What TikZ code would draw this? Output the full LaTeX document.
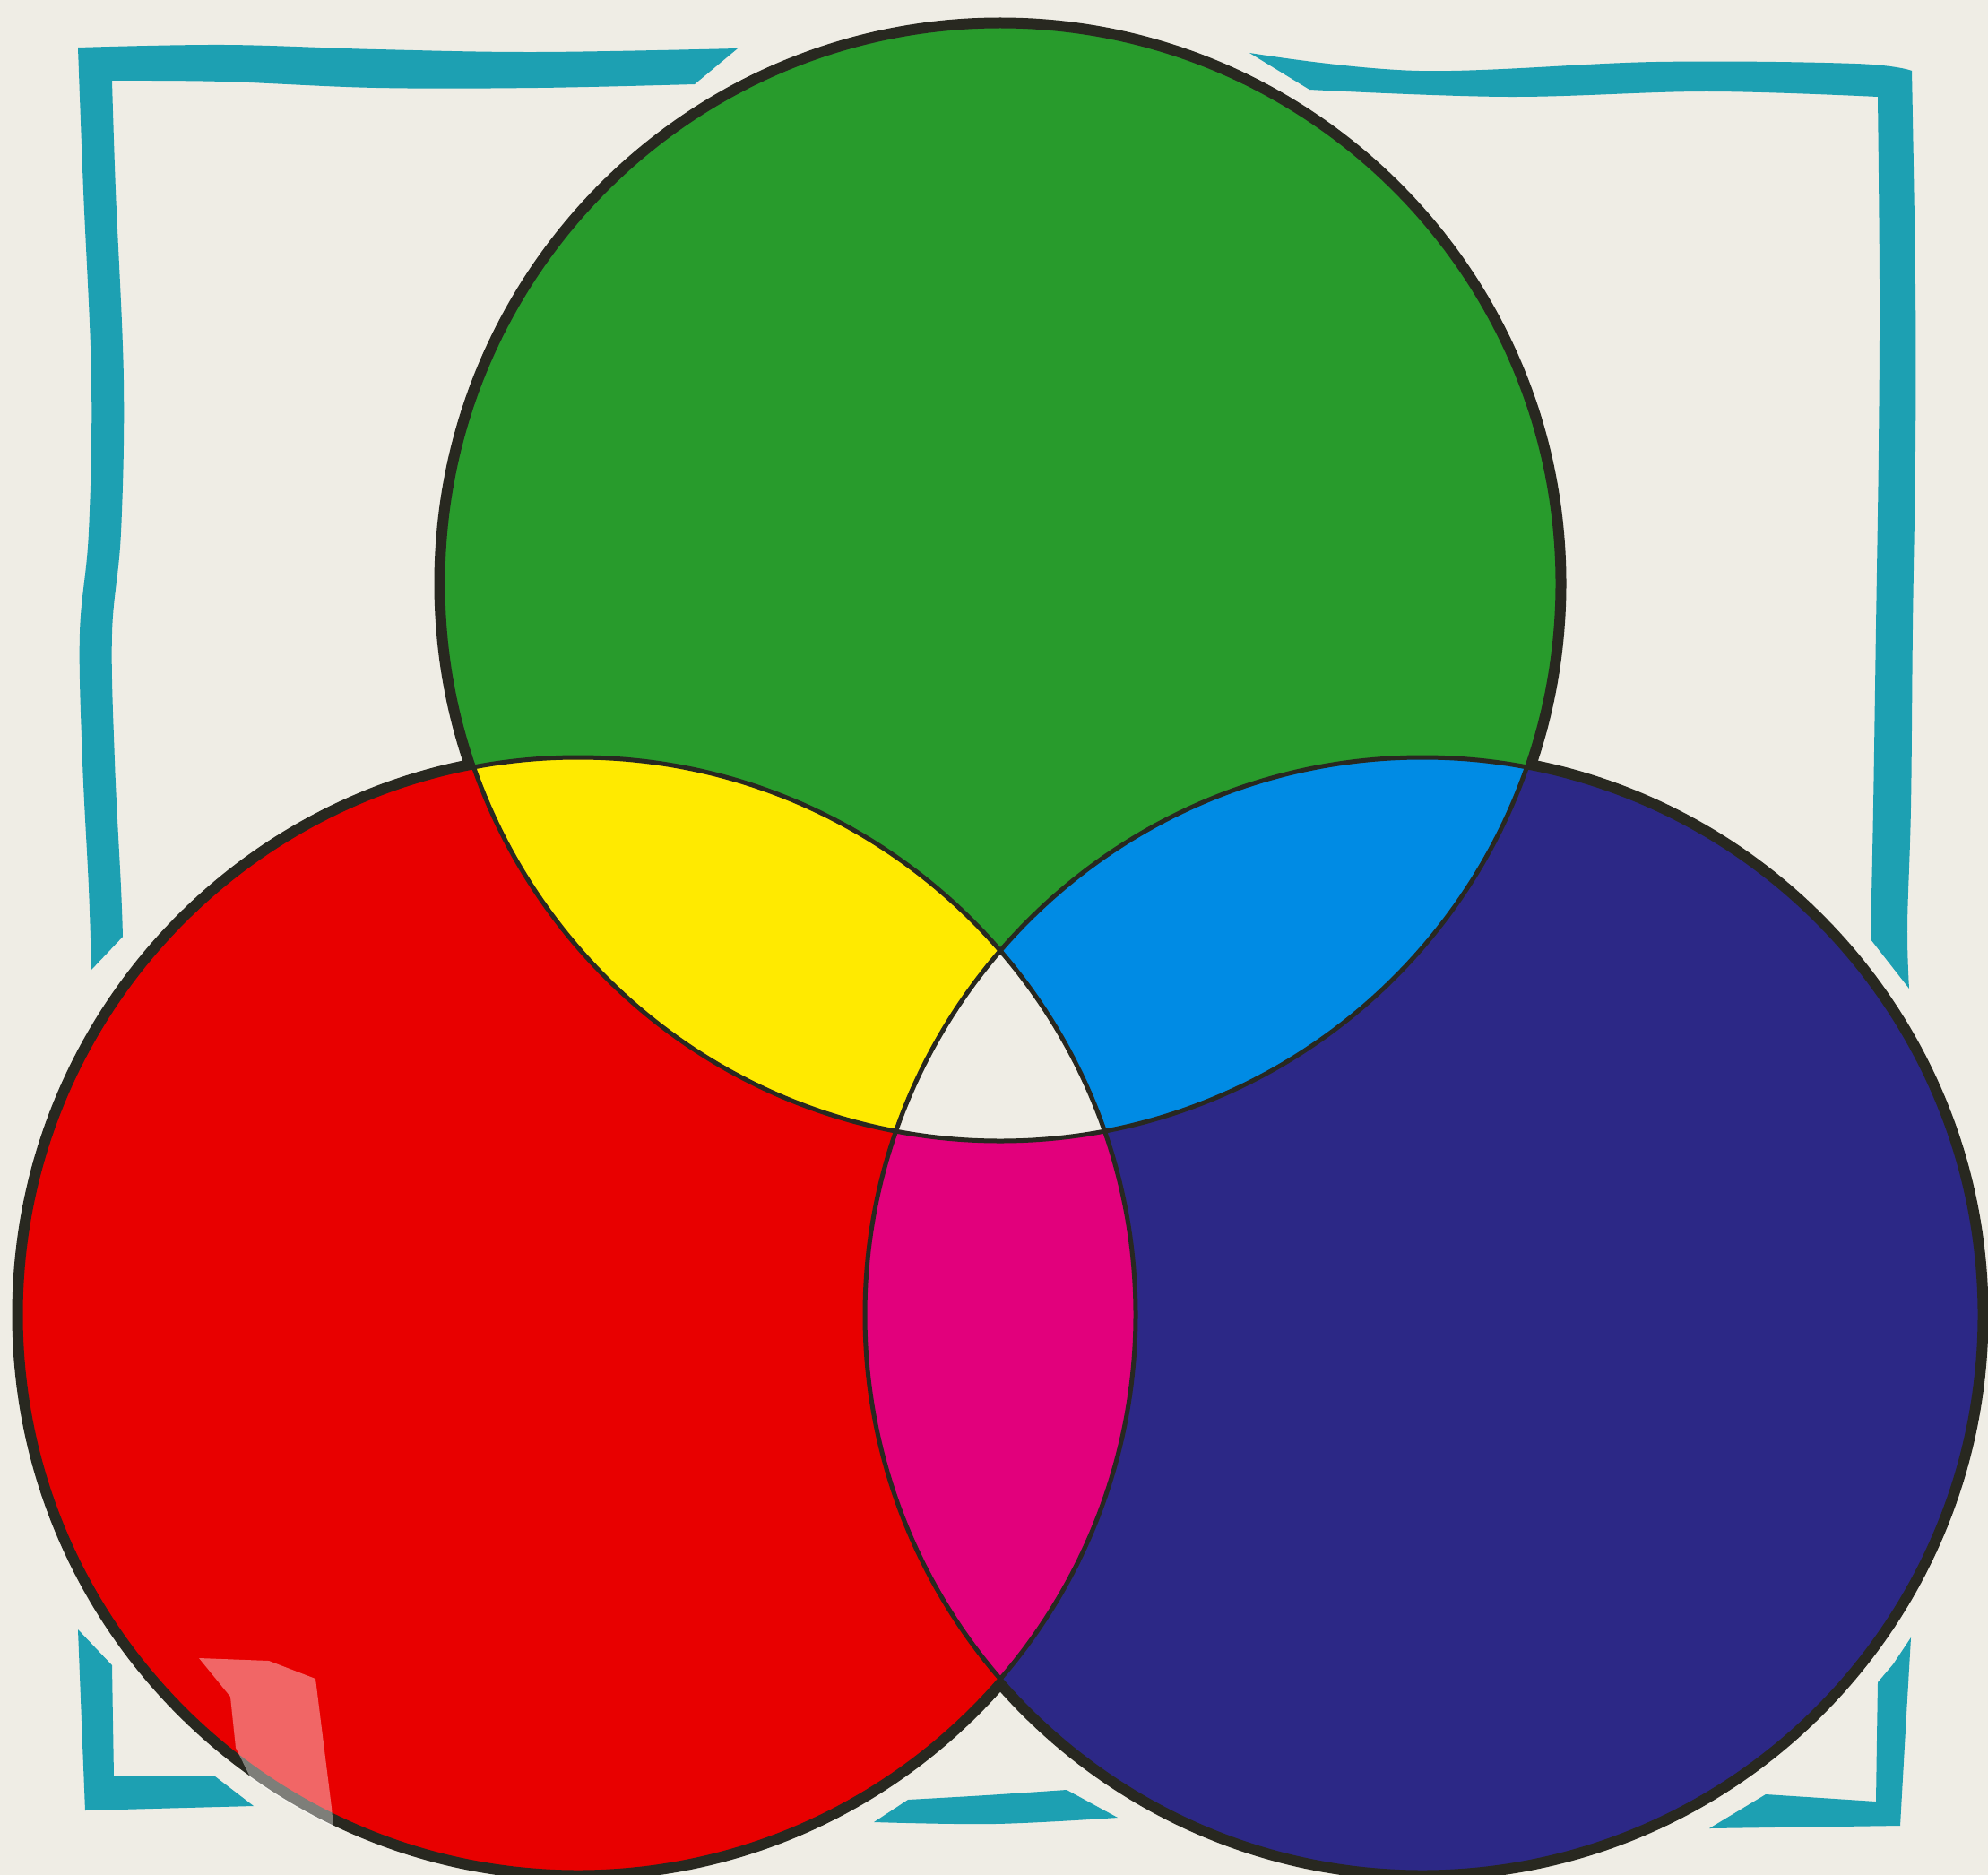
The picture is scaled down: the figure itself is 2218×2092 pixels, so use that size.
\documentclass[tikz,border=0pt]{standalone}
\usepackage{tikz}
\definecolor{paper}{RGB}{239,237,229}
\definecolor{cgreen}{RGB}{40,155,44}
\definecolor{cred}{RGB}{232,0,0}
\definecolor{cblue}{RGB}{44,40,134}
\definecolor{cyellow}{RGB}{255,234,0}
\definecolor{ccyan}{RGB}{0,139,228}
\definecolor{cmagenta}{RGB}{226,0,124}
\definecolor{teal}{RGB}{29,160,178}
\definecolor{ink}{RGB}{40,40,32}
\tikzset{
  framepiece/.style={fill=teal},
  outerline/.style={draw=ink, line width=19pt},
  innerline/.style={draw=ink, line width=5pt},
  wave/.style={smooth, tension=0.6},
}
\begin{document}
\begin{tikzpicture}[x=1pt,y=-1pt]
\useasboundingbox (0,0) rectangle (2218,2092);
\fill[paper] (0,0) rectangle (2218,2092);

\coordinate (G) at (1116,651);
\coordinate (R) at (645,1467);
\coordinate (B) at (1587,1467);
\def\rad{622pt}

% wavy teal frame: top-left piece
\fill[framepiece] (102,1082)
  -- plot[wave] coordinates {(102,1082) (99,990) (92,849) (89,707) (99,594) (102,424) (93,212) (87,53)}
  -- plot[wave] coordinates {(87,53) (250,50) (420,55) (600,58) (823,54)}
  -- (775,94)
  -- plot[wave] coordinates {(775,94) (600,98) (420,98) (250,91) (125,90)}
  -- plot[wave] coordinates {(125,90) (129,212) (138,424) (135,594) (125,707) (128,849) (135,990) (137,1045)}
  -- cycle;
% top-right piece
\fill[framepiece] (1394,59)
  -- plot[wave] coordinates {(1394,59) (1583,79) (1848,69) (2070,71) (2133,79)}
  -- plot[wave] coordinates {(2133,79) (2137,320) (2137,500) (2134,700) (2132,900) (2128,1033) (2130,1103)}
  -- (2087,1048)
  -- plot[wave] coordinates {(2087,1048) (2090,900) (2093,700) (2096,500) (2097,320) (2095,108)}
  -- plot[wave] coordinates {(2095,108) (1904,102) (1682,108) (1461,100)}
  -- cycle;
% bottom-left piece
\fill[framepiece] (87,1818) -- (91,1920) -- (95,2020) -- (283,2015) -- (240,1982) -- (127,1982) -- (126,1920) -- (125,1858) -- cycle;
% bottom-right piece
\fill[framepiece] (2132,1827) -- (2126,1930) -- (2120,2037) -- (1907,2040) -- (1970,2002) -- (2093,2010) -- (2094,1940) -- (2095,1877) -- (2112,1857) -- cycle;
% bottom middle piece
\fill[framepiece] (975,2033) -- (1013,2008)
  -- plot[wave] coordinates {(1013,2008) (1100,2003) (1190,1997)}
  -- (1247,2028)
  -- plot[wave] coordinates {(1247,2028) (1110,2035) (975,2033)} -- cycle;

% outer outline (thick), its inner half covered by the fills
\draw[outerline] (G) circle[radius=\rad];
\draw[outerline] (R) circle[radius=\rad];
\draw[outerline] (B) circle[radius=\rad];

% primary fills
\fill[cred] (R) circle[radius=\rad];
\fill[cblue] (B) circle[radius=\rad];
\fill[cgreen] (G) circle[radius=\rad];

% secondary fills
\begin{scope}
  \clip (G) circle[radius=\rad];
  \fill[cyellow] (R) circle[radius=\rad];
  \fill[ccyan] (B) circle[radius=\rad];
\end{scope}
\begin{scope}
  \clip (R) circle[radius=\rad];
  \fill[cmagenta] (B) circle[radius=\rad];
\end{scope}
\begin{scope}
  \clip (R) circle[radius=\rad];
  \clip (G) circle[radius=\rad];
  \fill[paper] (B) circle[radius=\rad];
\end{scope}

% inner outlines
\draw[innerline] (G) circle[radius=\rad];
\draw[innerline] (R) circle[radius=\rad];
\draw[innerline] (B) circle[radius=\rad];

% worn tape patch at bottom left
\begin{scope}
  \clip (R) circle[radius=633pt];
  \fill[white, opacity=0.40] (222,1850) -- (300,1853) -- (352,1873) -- (370,2017) -- (377,2092) -- (333,2092) -- (263,1950) -- (257,1893) -- cycle;
\end{scope}
\end{tikzpicture}
\end{document}
